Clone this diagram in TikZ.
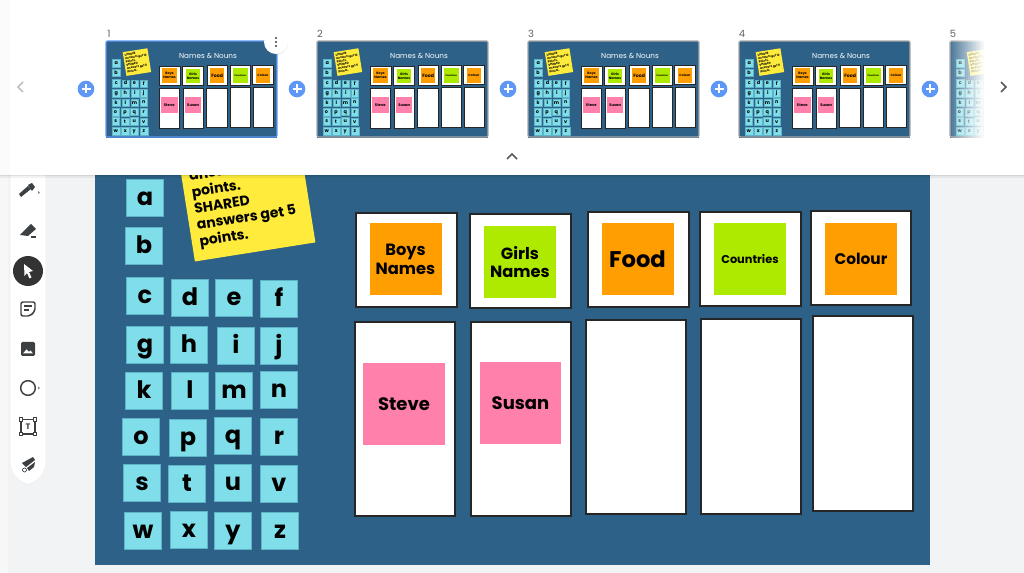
\documentclass[tikz,border=0pt]{standalone}
\usepackage{fontspec}
\setmainfont{Poppins}
\usetikzlibrary{shadows,calc}
\definecolor{slideblue}{HTML}{2D6187}
\definecolor{tile}{HTML}{80DEEA}
\definecolor{tileedge}{HTML}{5FB3C6}
\definecolor{noteyellow}{HTML}{FFEB3B}
\definecolor{noteorange}{HTML}{FF9E00}
\definecolor{notegreen}{HTML}{AEEA00}
\definecolor{notepink}{HTML}{FF80AB}
\definecolor{pagegray}{HTML}{F1F3F4}
\definecolor{plusblue}{HTML}{5E97F6}
\definecolor{icondark}{HTML}{3C4043}
\definecolor{numgray}{HTML}{5F6368}
\newcommand{\cardlw}{1.5pt}
\newcommand{\tilelw}{0.3pt}
\tikzset{
 x=0.75pt,y=-0.75pt,
 slidebg/.style={fill=slideblue,draw=none,anchor=north west,minimum width=626.25pt,minimum height=355.5pt,inner sep=0pt},
 lettertile/.style={fill=tile,draw=tileedge,line width=\tilelw,minimum size=27.6pt,inner sep=0pt,text height=14pt,text depth=2.4pt,text=black,font=\fontsize{18}{18}\selectfont\bfseries},
 card/.style={fill=white,draw=black!85,line width=\cardlw,inner sep=0pt,anchor=north west},
 sticky/.style={inner sep=0pt,minimum size=54pt,text=black,align=center,font=\fontsize{12.2}{14}\selectfont\bfseries},
 yellownote/.style={fill=noteyellow,inner sep=0pt,minimum width=91.5pt,minimum height=88pt,rotate=9,text=black},
 slidetitle/.style={text=white,font=\fontsize{26.5}{27}\selectfont},
 plusbtn/.style={circle,fill=plusblue,minimum size=12.5pt,inner sep=0pt},
 thumbnum/.style={text=numgray,font=\fontsize{7.5}{8}\selectfont},
 icon/.style={draw=icondark,line width=1.1pt,fill=none},
 iconfill/.style={fill=icondark,draw=none},
}
% left part of the slide: letters and yellow note
\newcommand{\slideleft}[1]{%
 \node[slidebg] (#1bg) at (95,91) {};
 \foreach \l/\px/\py in {a/145/198,b/144/246,c/145/296,d/190/298,e/234/298,f/279/299,g/145/345,h/189/345,i/236/346,j/279/346,k/144/391,l/190/391,m/234/391,n/279/390,o/141/437,p/188/438,q/233/436,r/279/437,s/142/483,t/187/484,u/233/483,v/279/484,w/143/531,x/189/530,y/233/531,z/280/531}
  {\node[lettertile] (#1\l) at (\px,\py) {\l};}
 \node[yellownote] (#1note) at (246,194) {\begin{minipage}{80pt}\fontsize{10.5}{12.4}\selectfont\bfseries\raggedright UNIQUE\\answers get 10\\points.\\SHARED\\answers get 5\\points.\end{minipage}};
}
% right part: cards and stickies
\newcommand{\slideright}[1]{%
 \foreach \n/\px/\py/\w/\h in {ca/355/212/101/94,cb/469/213/101/94,cc/587/211/101/95,cd/699/211/101/94,ce/810/210/100/94,ta/354/321/100/194,tb/470/321/100/194,tc/585/319/100/194,td/700/318/100/195,te/812/315/100/195}
  {\node[card,minimum width=0.75*\w pt,minimum height=0.75*\h pt] (#1\n) at (\px,\py) {};}
 \node[sticky,fill=noteorange] (#1boys) at (405.5,259.5) {Boys\\Names};
 \node[sticky,fill=notegreen] (#1girls) at (520,262) {Girls\\Names};
 \node[sticky,fill=noteorange,font=\fontsize{17}{17}\selectfont\bfseries] (#1food) at (637.5,259) {Food};
 \node[sticky,fill=notegreen,font=\fontsize{8.5}{9}\selectfont\bfseries] (#1countries) at (750,259) {Countries};
 \node[sticky,fill=noteorange,font=\fontsize{11.5}{12}\selectfont\bfseries] (#1colour) at (861,259) {Colour};
 \node[sticky,fill=notepink,minimum size=61pt,font=\fontsize{13.5}{14}\selectfont\bfseries] (#1steve) at (404,404) {Steve};
 \node[sticky,fill=notepink,minimum size=61pt,font=\fontsize{13.5}{14}\selectfont\bfseries] (#1susan) at (520.5,403) {Susan};
}
\newcommand{\thumb}[3]{% prefix, left x, border colour
 \begin{scope}[shift={(#2,41)},scale=0.2048,transform shape,shift={(-95,-91)}]
  \renewcommand{\cardlw}{0.35pt}\renewcommand{\tilelw}{0.06pt}
  \slideleft{#1}
  \slideright{#1}
  \node[slidetitle] (#1title) at (593,164) {Names \& Nouns};
 \end{scope}
 \draw[#3,line width=0.9pt,rounded corners=1pt] (#2,41) rectangle ++(171,96);
}
\begin{document}
\begin{tikzpicture}
\useasboundingbox (0,0) rectangle (1024,573);
\fill[pagegray] (0,0) rectangle (1024,573);
\fill[black!3] (0,0) rectangle (8,573);
% large view
\begin{scope}
 \clip (0,0) rectangle (1024,573);
 \slideleft{m}
 \slideright{m}
\end{scope}
% tool bar
\filldraw[fill=white,draw=black!6,line width=0.4pt,rounded corners=18pt] (10,150) rectangle (46,485);
\fill[iconfill] (21,197) -- (19,194) -- (28,186) -- (31,189) -- cycle;
\fill[iconfill] (28,185) -- (32,183) -- (35,187) -- (32,191) -- cycle;
\fill[gray] (38,191) -- (40,192.5) -- (38,194) -- cycle;
\fill[iconfill] (20,235) -- (31,224) -- (36,229) -- (28,236) -- cycle;
\draw[icondark,line width=0.8pt] (31,237) -- (36,237);
\node[circle,fill=black!80,minimum size=22.5pt,inner sep=0pt] (cursorbtn) at (28,271) {};
\fill[white] (24,264) -- (33,271) -- (29,272) -- (31.5,277.5) -- (29.5,278.5) -- (27,273) -- (24.5,276) -- cycle;
\draw[icon,rounded corners=1.5pt] (21,302) -- (35,302) -- (35,311) -- (30,316) -- (21,316) -- cycle;
\draw[icondark,line width=1pt] (24,306) -- (32,306) (24,310) -- (29,310);
\fill[iconfill,rounded corners=1pt] (21,342) rectangle (35,356);
\fill[white] (23,353.5) -- (26.5,349.5) -- (29,352) -- (30.5,350.5) -- (33,353.5) -- cycle;
\node[circle,draw=icondark,line width=1.1pt,minimum size=11pt,inner sep=0pt] (shapeicon) at (28,388) {};
\fill[gray] (38,386.5) -- (40,388) -- (38,389.5) -- cycle;
\draw[icon] (21,419.5) rectangle (35,434);
\foreach \ix/\iy in {21/419.5,35/419.5,21/434,35/434}{\draw[icondark,line width=0.8pt,fill=white] (\ix-1.8,\iy-1.8) rectangle (\ix+1.8,\iy+1.8);}
\node[text=icondark,inner sep=0pt,font=\fontsize{6}{6}\selectfont\bfseries] (texticon) at (28,427) {T};
\fill[iconfill] (22,463) -- (33,457) -- (35,460) -- (26,467) -- cycle;
\fill[iconfill] (27,468) -- (35,462) -- (34,467) -- (29,471) -- cycle;
\draw[icondark,line width=0.5pt] (24.5,470) circle (2);
% filmstrip panel
\fill[black,opacity=0.05] (0,175) rectangle (1024,178);
\fill[black,opacity=0.08] (0,175) rectangle (1024,176.5);
\fill[white] (0,0) rectangle (1024,175);
\fill[black!1.5] (0,0) rectangle (10,175);
\thumb{ta}{106}{plusblue}
\thumb{tb}{317}{black!35}
\thumb{tc}{528}{black!35}
\thumb{td}{739}{black!35}
\begin{scope}
 \clip (940,30) rectangle (988,145);
 \begin{scope}[shift={(950,41)},scale=0.2048,transform shape,shift={(-95,-91)}]
  \renewcommand{\tilelw}{0.06pt}
  \slideleft{te}
 \end{scope}
 \draw[black!35,line width=0.9pt,rounded corners=1pt] (950,41) rectangle ++(171,96);
\end{scope}
\foreach \i in {0,...,19}{\pgfmathsetmacro\op{min(1,0.15+\i*0.05)}\fill[white,opacity=\op] (950+\i*2,38) rectangle (952.2+\i*2,140);}
\foreach \n/\px in {1/109,2/320,3/531,4/742,5/953}{\node[thumbnum] (num\n) at (\px,34) {\n};}
\foreach \n/\px in {1/86,2/297,3/508,4/719,5/930}{
 \node[plusbtn] (plus\n) at (\px,89) {};
 \draw[white,line width=1.3pt] ($(plus\n)+(-4.5,0)$) -- ($(plus\n)+(4.5,0)$) ($(plus\n)+(0,-4.5)$) -- ($(plus\n)+(0,4.5)$);
}
\node[circle,fill=white,minimum size=18pt,inner sep=0pt,drop shadow={opacity=0.2,shadow xshift=0pt,shadow yshift=-0.6pt}] (kebab) at (276,42) {};
\foreach \dy in {-4,0,4}{\fill[icondark] ($(kebab)+(0,\dy)$) circle (1.2);}
\coordinate (chevL) at (18,87);
\coordinate (chevR) at (1006,87);
\coordinate (chevU) at (512,154);
\draw[black!25,line width=1.1pt] ($(chevL)+(5,-5)$) -- (chevL) -- ($(chevL)+(5,5)$);
\draw[black!65,line width=1.1pt] ($(chevR)+(-5,-5)$) -- (chevR) -- ($(chevR)+(-5,5)$);
\draw[black!65,line width=1.1pt] ($(chevU)+(-5,5)$) -- (chevU) -- ($(chevU)+(5,5)$);
\end{tikzpicture}
\end{document}
